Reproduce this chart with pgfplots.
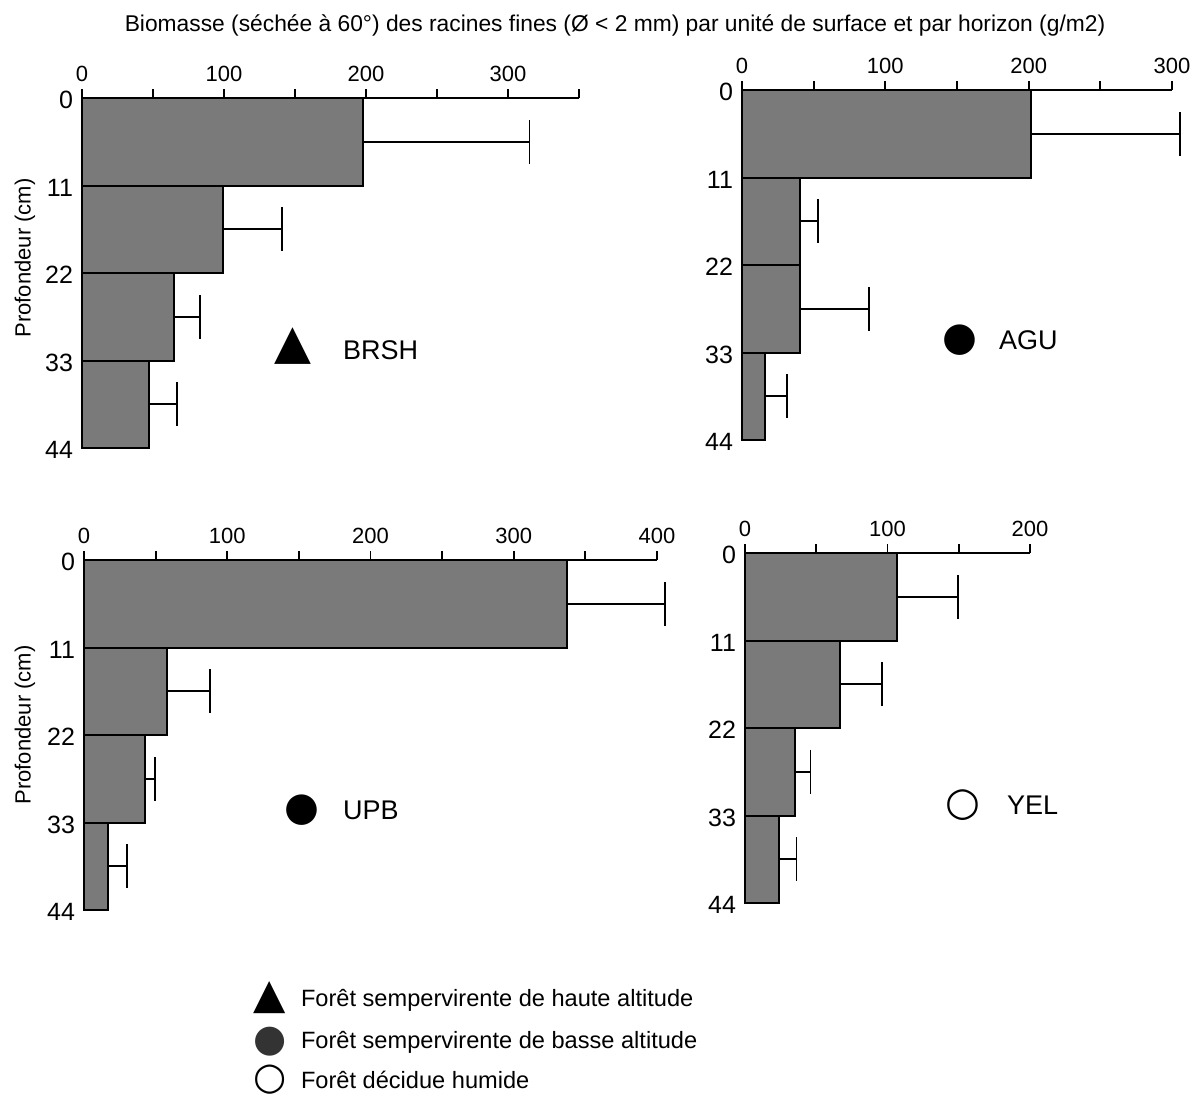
\documentclass[border=0pt]{standalone}
\usepackage{fontspec}
\setmainfont{Liberation Sans}
\newfontfamily\symfont{DejaVu Sans}
\usepackage{pgfplots}
\pgfplotsset{compat=1.18}
\pgfplotsset{
  panel/.style={
    scale only axis,
    anchor=north west,
    y dir=reverse,
    ymin=0, ymax=44,
    xmin=0,
    height=175pt,
    enlargelimits=false,
    clip=false,
    axis x line*=top,
    axis y line*=left,
    axis line style={line width=1pt},
    ytick={0,11,22,33,44},
    ytick style={draw=none},
    tick align=outside,
    major tick length=4.5pt,
    xtick style={line width=0.9pt, black},
    /pgf/number format/assume math mode=true,
    xticklabel style={font=\fontsize{11}{12}\selectfont},
    yticklabel style={font=\fontsize{12.5}{13}\selectfont, xshift=3.5pt, yshift=-1pt},
  },
  bars/.style={
    xbar, bar width=11, fill=black!52, draw=black, line width=1pt,
    error bars/.cd, x dir=plus, x explicit, error mark=|,
    error bar style={line width=0.8pt, black},
    error mark options={line width=0.8pt, mark size=11pt, black},
  },
}
\begin{document}
\begin{tikzpicture}
\useasboundingbox (0,0) rectangle (601pt,-549pt);
% Panel 1 BRSH
\begin{axis}[panel, at={(41pt,-49pt)}, width=248.5pt, xmax=350,
  xtick={0,50,...,350}, xticklabels={0,,100,,200,,300,}]
\addplot[bars] coordinates {
 (198,5.5) +- (117,0)
 (99,16.5) +- (42,0)
 (65,27.5) +- (18,0)
 (47,38.5) +- (20,0)
};
\end{axis}
% Panel 2 AGU
\begin{axis}[panel, at={(371pt,-45pt)}, width=215pt, xmax=300,
  xtick={0,50,...,300}, xticklabels={0,,100,,200,,300}]
\addplot[bars] coordinates {
 (201.5,5.5) +- (104,0)
 (40.5,16.5) +- (12.5,0)
 (40.5,27.5) +- (48,0)
 (16,38.5) +- (15.5,0)
};
\end{axis}
% Panel 3 UPB
\begin{axis}[panel, at={(42pt,-280pt)}, width=286.5pt, xmax=400,
  xtick={0,50,...,400}, xticklabels={0,,100,,200,,300,,400}]
\addplot[bars] coordinates {
 (337,5.5) +- (68.5,0)
 (58,16.5) +- (30,0)
 (42.5,27.5) +- (7,0)
 (16.8,38.5) +- (13.2,0)
};
\end{axis}
% Panel 4 YEL
\begin{axis}[panel, at={(372.5pt,-276.5pt)}, width=142.5pt, xmax=200,
  xtick={0,50,...,200}, xticklabels={0,,100,,200}]
\addplot[bars] coordinates {
 (106.7,5.5) +- (42.8,0)
 (66.7,16.5) +- (29.3,0)
 (35,27.5) +- (11,0)
 (24,38.5) +- (12,0)
};
\end{axis}
% Title
\node[font=\fontsize{11.4}{13}\selectfont] at (307.5pt,-12.5pt)
  {Biomasse (séchée à 60°) des racines fines (Ø < 2 mm) par unité de surface et par horizon (g/m2)};
% y labels
\node[rotate=90, font=\fontsize{11}{13}\selectfont] at (12.5pt,-129pt) {Profondeur (cm)};
\node[rotate=90, font=\fontsize{11}{13}\selectfont] at (12.5pt,-362.5pt) {Profondeur (cm)};
% panel annotations
\node[font=\symfont\fontsize{24}{24}\selectfont, inner sep=0pt] at (146.5pt,-173pt) {▲};
\node[anchor=west, font=\fontsize{13.5}{14}\selectfont] at (168pt,-175pt) {BRSH};
\node[font=\symfont\fontsize{20}{20}\selectfont, inner sep=0pt] at (480pt,-170pt) {●};
\node[anchor=west, font=\fontsize{13.5}{14}\selectfont] at (496pt,-170pt) {AGU};
\node[font=\symfont\fontsize{20}{20}\selectfont, inner sep=0pt] at (151pt,-405pt) {●};
\node[anchor=west, font=\fontsize{13.5}{14}\selectfont] at (168pt,-405pt) {UPB};
\node[font=\symfont\fontsize{20}{20}\selectfont, inner sep=0pt] at (481.5pt,-402.5pt) {○};
\node[anchor=west, font=\fontsize{13.5}{14}\selectfont] at (500pt,-402.5pt) {YEL};
% legend
\node[font=\symfont\fontsize{21}{21}\selectfont, inner sep=0pt] at (135pt,-499pt) {▲};
\node[anchor=west, font=\fontsize{11.8}{13}\selectfont] at (147pt,-500pt) {Forêt sempervirente de haute altitude};
\node[font=\symfont\fontsize{19}{19}\selectfont, inner sep=0pt, text=black!80] at (135pt,-521pt) {●};
\node[anchor=west, font=\fontsize{11.8}{13}\selectfont] at (147pt,-521pt) {Forêt sempervirente de basse altitude};
\node[font=\symfont\fontsize{19}{19}\selectfont, inner sep=0pt] at (135pt,-540pt) {○};
\node[anchor=west, font=\fontsize{11.8}{13}\selectfont] at (147pt,-540pt) {Forêt décidue humide};
\end{tikzpicture}
\end{document}
